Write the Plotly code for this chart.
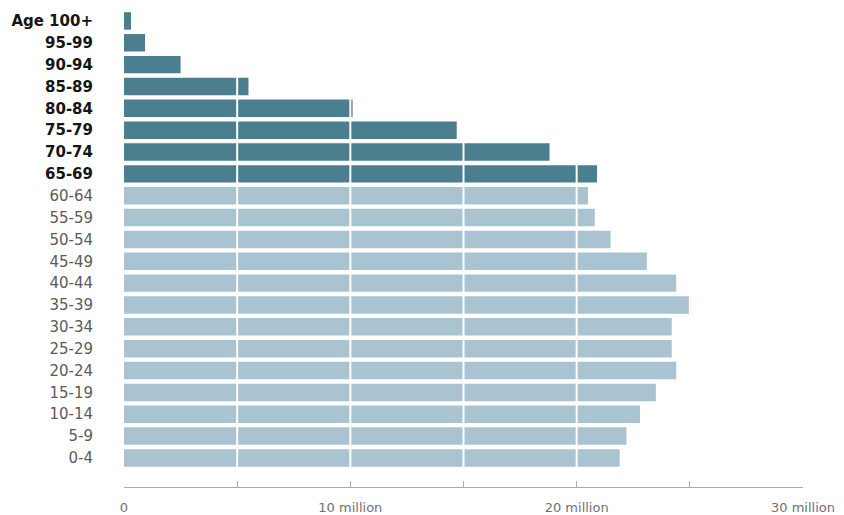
import plotly.graph_objects as go

age_groups = ["0-4", "5-9", "10-14", "15-19", "20-24", "25-29", "30-34", "35-39",
              "40-44", "45-49", "50-54", "55-59", "60-64", "65-69", "70-74", "75-79",
              "80-84", "85-89", "90-94", "95-99", "Age 100+"]
population_millions = [21.9, 22.2, 22.8, 23.5, 24.4, 24.2, 24.2, 25.05,
                       24.4, 23.1, 21.5, 20.8, 20.5, 20.9, 18.8, 14.7,
                       10.1, 5.5, 2.5, 0.93, 0.31]
senior_groups = ["65-69", "70-74", "75-79", "80-84", "85-89", "90-94", "95-99", "Age 100+"]
x_tick_vals = [0, 5, 10, 15, 20, 25, 30]
x_tick_text = ["0", "", "10 million", "", "20 million", "", "30 million"]

DARK = "#4b7f90"
LIGHT = "#a9c4d0"

colors = [DARK if a in senior_groups else LIGHT for a in age_groups]
tick_text = [
    f"<b>{a}</b>" if a in senior_groups else f"<span style='color:#5a5a5a'>{a}</span>"
    for a in age_groups
]

fig = go.Figure(go.Bar(
    y=age_groups, x=population_millions, orientation="h",
    marker=dict(color=colors, line=dict(width=0)),
    hoverinfo="skip",
))

for v in [5, 10, 15, 20, 25]:
    fig.add_shape(type="line", xref="x", yref="paper", x0=v, x1=v, y0=0.04, y1=1,
                  line=dict(color="white", width=2), layer="above")

fig.update_layout(
    width=836, height=507,
    margin=dict(l=116, r=41, t=2, b=28, autoexpand=False),
    plot_bgcolor="white", paper_bgcolor="white",
    bargap=0.2,
    showlegend=False,
    font=dict(family="DejaVu Sans, Arial, sans-serif"),
    xaxis=dict(
        range=[0, 30], tickvals=x_tick_vals, ticktext=x_tick_text,
        showgrid=False, zeroline=False, automargin=False,
        showline=True, linecolor="#aaaaaa", linewidth=1,
        ticks="inside", ticklen=6, tickcolor="#aaaaaa",
        tickfont=dict(size=13, color="#707070"),
        ticklabelstandoff=8,
    ),
    yaxis=dict(
        categoryorder="array", categoryarray=age_groups,
        tickvals=age_groups, ticktext=tick_text,
        range=[-1.33, 20.5], automargin=False,
        showgrid=False, zeroline=False, showline=False, ticks="",
        tickfont=dict(size=15, color="#151515"),
        ticklabelstandoff=30,
    ),
)

fig.write_html("out.html")
